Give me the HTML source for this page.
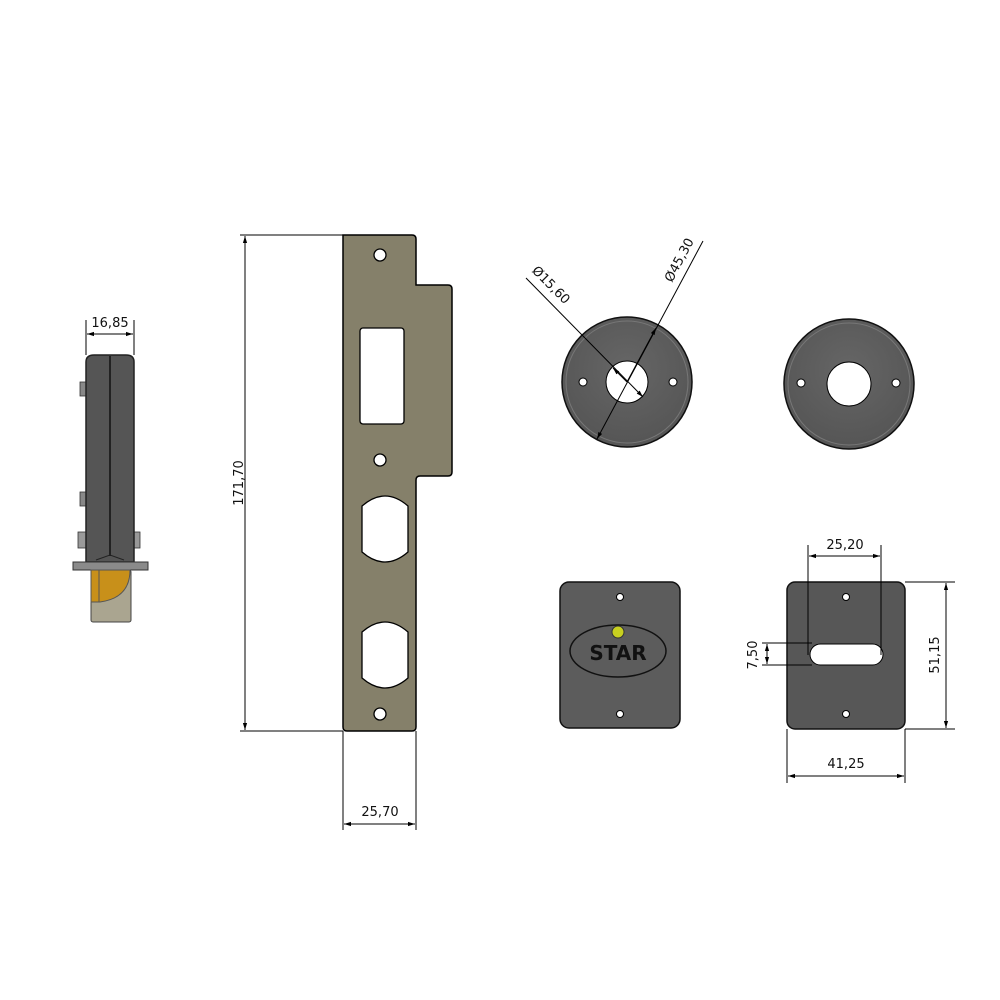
<!DOCTYPE html>
<html><head><meta charset="utf-8"><style>html,body{margin:0;padding:0;background:#fff}svg{display:block}text{font-family:"DejaVu Sans","Liberation Sans",sans-serif;font-size:13px;fill:#111}</style></head>
<body>
<svg width="1000" height="1000" viewBox="0 0 1000 1000" xmlns="http://www.w3.org/2000/svg">
<defs>
<marker id="a" viewBox="0 0 10 10" refX="10" refY="5" markerWidth="7" markerHeight="7" orient="auto-start-reverse"><path d="M0,2 L10,5 L0,8 z" fill="#000"/></marker>
<radialGradient id="g" cx="0.5" cy="0.4" r="0.6"><stop offset="0" stop-color="#666"/><stop offset="1" stop-color="#555"/></radialGradient>
</defs>
<g stroke="#000" stroke-width="1" fill="none">
<!-- lock side -->
<line x1="86" y1="320" x2="86" y2="355"/><line x1="134" y1="320" x2="134" y2="355"/>
<line x1="87" y1="334" x2="133" y2="334" marker-start="url(#a)" marker-end="url(#a)"/>
</g>
<text x="110" y="327" text-anchor="middle">16,85</text>
<rect x="80" y="382" width="6" height="14" fill="#888" stroke="#333" stroke-width="0.8"/>
<rect x="80" y="492" width="6" height="14" fill="#888" stroke="#333" stroke-width="0.8"/>
<rect x="78" y="532" width="8" height="16" fill="#999" stroke="#333" stroke-width="0.8"/>
<rect x="134" y="532" width="6" height="16" fill="#999" stroke="#333" stroke-width="0.8"/>
<path d="M86,362 Q86,355 94,355 L126,355 Q134,355 134,362 L134,562 L86,562 Z" fill="#555" stroke="#222" stroke-width="1.5"/>
<line x1="110" y1="356" x2="110" y2="556" stroke="#111" stroke-width="1.5"/>
<path d="M96,560 L110,555 L124,560" fill="none" stroke="#222"/>
<rect x="73" y="562" width="75" height="8" fill="#8a8a8a" stroke="#333"/>
<rect x="91" y="570" width="40" height="52" rx="2" fill="#aaa590" stroke="#444"/>
<path d="M91,570 L130,570 Q130,598 100,602 L91,602 Z" fill="#c8901a" stroke="#555"/>
<line x1="99" y1="570" x2="99" y2="602" stroke="#555"/>
<!-- strike -->
<path d="M343,235 L412,235 Q416,235 416,239 L416,285 L448,285 Q452,285 452,289 L452,472 Q452,476 448,476 L420,476 Q416,476 416,480 L416,727 Q416,731 412,731 L347,731 Q343,731 343,727 Z" fill="#85806a" stroke="#000" stroke-width="1.5"/>
<g fill="#fff" stroke="#000" stroke-width="1.3">
<circle cx="380" cy="255" r="6"/><circle cx="380" cy="460" r="6"/><circle cx="380" cy="714" r="6"/>
<rect x="360" y="328" width="44" height="96" rx="3"/>
<path d="M362,506 Q385,486 408,506 L408,552 Q385,572 362,552 Z"/>
<path d="M362,632 Q385,612 408,632 L408,678 Q385,698 362,678 Z"/>
</g>
<g stroke="#000" stroke-width="1" fill="none">
<line x1="240" y1="235" x2="343" y2="235"/><line x1="240" y1="731" x2="343" y2="731"/>
<line x1="245" y1="236" x2="245" y2="730" marker-start="url(#a)" marker-end="url(#a)"/>
<line x1="343" y1="731" x2="343" y2="830"/><line x1="416" y1="731" x2="416" y2="830"/>
<line x1="344" y1="824" x2="415" y2="824" marker-start="url(#a)" marker-end="url(#a)"/>
</g>
<text transform="translate(243,483) rotate(-90)" text-anchor="middle">171,70</text>
<text x="380" y="816" text-anchor="middle">25,70</text>
<!-- rosette 1 -->
<circle cx="627" cy="382" r="65" fill="url(#g)" stroke="#111" stroke-width="1.5"/>
<circle cx="627" cy="382" r="61" fill="none" stroke="#777" stroke-width="1"/>
<g fill="#fff" stroke="#000"><circle cx="627" cy="382" r="21"/><circle cx="583" cy="382" r="4"/><circle cx="673" cy="382" r="4"/></g>
<g stroke="#000" stroke-width="1" fill="none">
<line x1="526" y1="278" x2="643" y2="397" marker-end="url(#a)"/>
<line x1="703" y1="241" x2="597" y2="439" marker-end="url(#a)"/>
<line x1="627" y1="382" x2="613" y2="368" marker-end="url(#a)"/>
<line x1="627" y1="382" x2="656" y2="328" marker-end="url(#a)"/>
</g>
<text transform="translate(548,288) rotate(45)" text-anchor="middle">Ø15,60</text>
<text transform="translate(683,262) rotate(-62)" text-anchor="middle">Ø45,30</text>
<!-- rosette 2 -->
<circle cx="849" cy="384" r="65" fill="url(#g)" stroke="#111" stroke-width="1.5"/>
<circle cx="849" cy="384" r="61" fill="none" stroke="#777" stroke-width="1"/>
<g fill="#fff" stroke="#000"><circle cx="849" cy="384" r="22"/><circle cx="801" cy="383" r="4"/><circle cx="896" cy="383" r="4"/></g>
<!-- STAR plate -->
<rect x="560" y="582" width="120" height="146" rx="9" fill="#5c5c5c" stroke="#111" stroke-width="1.5"/>
<g fill="#fff" stroke="#000"><circle cx="620" cy="597" r="3.5"/><circle cx="620" cy="714" r="3.5"/></g>
<ellipse cx="618" cy="651" rx="48" ry="26" fill="none" stroke="#111" stroke-width="1.5"/>
<circle cx="618" cy="632" r="6" fill="#c8d020" stroke="#333"/>
<text x="618" y="660" text-anchor="middle" style="font-size:20px;font-weight:bold;fill:#111">STAR</text>
<!-- plate 2 -->
<rect x="787" y="582" width="118" height="147" rx="8" fill="#575757" stroke="#111" stroke-width="1.5"/>
<g fill="#fff" stroke="#000"><circle cx="846" cy="597" r="3.5"/><circle cx="846" cy="714" r="3.5"/>
<rect x="810" y="644" width="73" height="21" rx="10.5"/></g>
<g stroke="#000" stroke-width="1" fill="none">
<line x1="808" y1="545" x2="808" y2="655"/><line x1="881" y1="545" x2="881" y2="655"/>
<line x1="809" y1="556" x2="880" y2="556" marker-start="url(#a)" marker-end="url(#a)"/>
<line x1="762" y1="643" x2="812" y2="643"/><line x1="762" y1="665" x2="812" y2="665"/>
<line x1="767" y1="644" x2="767" y2="664" marker-start="url(#a)" marker-end="url(#a)"/>
<line x1="905" y1="582" x2="955" y2="582"/><line x1="905" y1="729" x2="955" y2="729"/>
<line x1="946" y1="583" x2="946" y2="728" marker-start="url(#a)" marker-end="url(#a)"/>
<line x1="787" y1="729" x2="787" y2="783"/><line x1="905" y1="729" x2="905" y2="783"/>
<line x1="788" y1="776" x2="904" y2="776" marker-start="url(#a)" marker-end="url(#a)"/>
</g>
<text x="845" y="549" text-anchor="middle">25,20</text>
<text transform="translate(757,655) rotate(-90)" text-anchor="middle">7,50</text>
<text transform="translate(939,655) rotate(-90)" text-anchor="middle">51,15</text>
<text x="846" y="768" text-anchor="middle">41,25</text>
</svg>
</body></html>
